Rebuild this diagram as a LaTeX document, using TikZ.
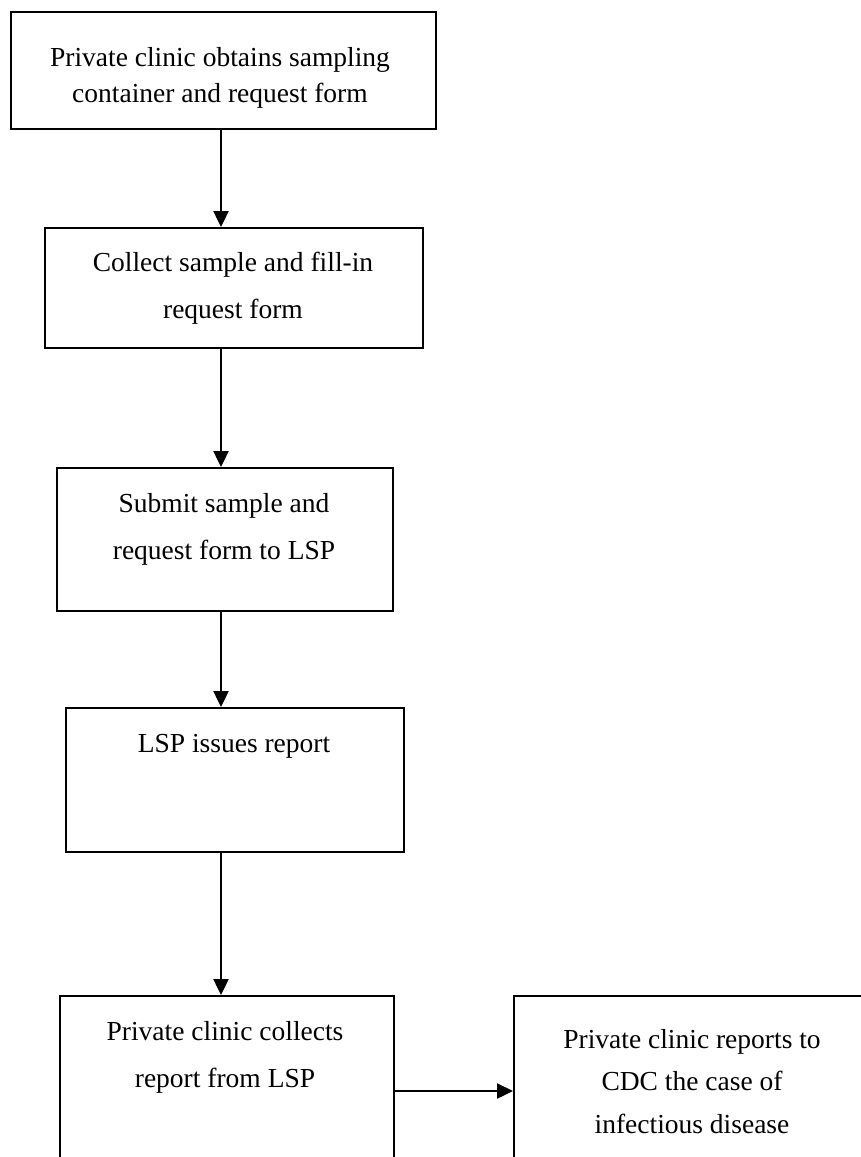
\documentclass[tikz,border=0pt]{standalone}
\usepackage{fontspec}
\setmainfont{Liberation Serif}
\usetikzlibrary{arrows.meta}

\tikzset{
  stage/.style={draw, line width=1.7pt, anchor=north west, inner sep=0pt},
  stagetext/.style={anchor=base, align=center, inner sep=0pt, font=\fontsize{27.5}{46.5}\selectfont},
  flow/.style={line width=2.4pt, -{Triangle[length=16pt,width=15pt]}},
}

\begin{document}
\begin{tikzpicture}[x=1pt,y=1pt,yscale=-1]
\useasboundingbox (0,0) rectangle (861,1157);
\clip (0,0) rectangle (861,1157);

%Boxes
\node[stage, minimum width=425pt, minimum height=117pt] (obtain) at (10,11) {};
\node[stage, minimum width=378pt, minimum height=120pt] (sample) at (44,227) {};
\node[stage, minimum width=336pt, minimum height=143pt] (submit) at (56,467) {};
\node[stage, minimum width=338pt, minimum height=144pt] (issue) at (65,707) {};
\node[stage, minimum width=334pt, minimum height=190pt] (fetch) at (59,995) {};
\node[stage, minimum width=358pt, minimum height=190pt] (notify) at (513,995) {};

% Text Node (anchored at the baseline of the last line)
\node[stagetext, font=\fontsize{27.5}{35.5}\selectfont] (obtaintext) at (220,102) {Private clinic obtains sampling\\container and request form};
\node[stagetext] (sampletext) at (233,318) {Collect sample and fill-in\\request form};
\node[stagetext] (submittext) at (224,559) {Submit sample and\\request form to LSP};
\node[stagetext] (issuetext) at (234,752) {LSP issues report};
\node[stagetext] (fetchtext) at (225,1087) {Private clinic collects\\report from LSP};
\node[stagetext, font=\fontsize{27.5}{42.5}\selectfont] (notifytext) at (692,1133) {Private clinic reports to\\CDC the case of\\infectious disease};

%Arrows
\coordinate (spine) at (221,0);
\coordinate (handover) at (0,1091);
\draw[flow] (obtain.south -| spine) -- (sample.north -| spine);
\draw[flow] (sample.south -| spine) -- (submit.north -| spine);
\draw[flow] (submit.south -| spine) -- (issue.north -| spine);
\draw[flow] (issue.south -| spine) -- (fetch.north -| spine);
\draw[flow] (fetch.east |- handover) -- (notify.west |- handover);

\end{tikzpicture}
\end{document}
